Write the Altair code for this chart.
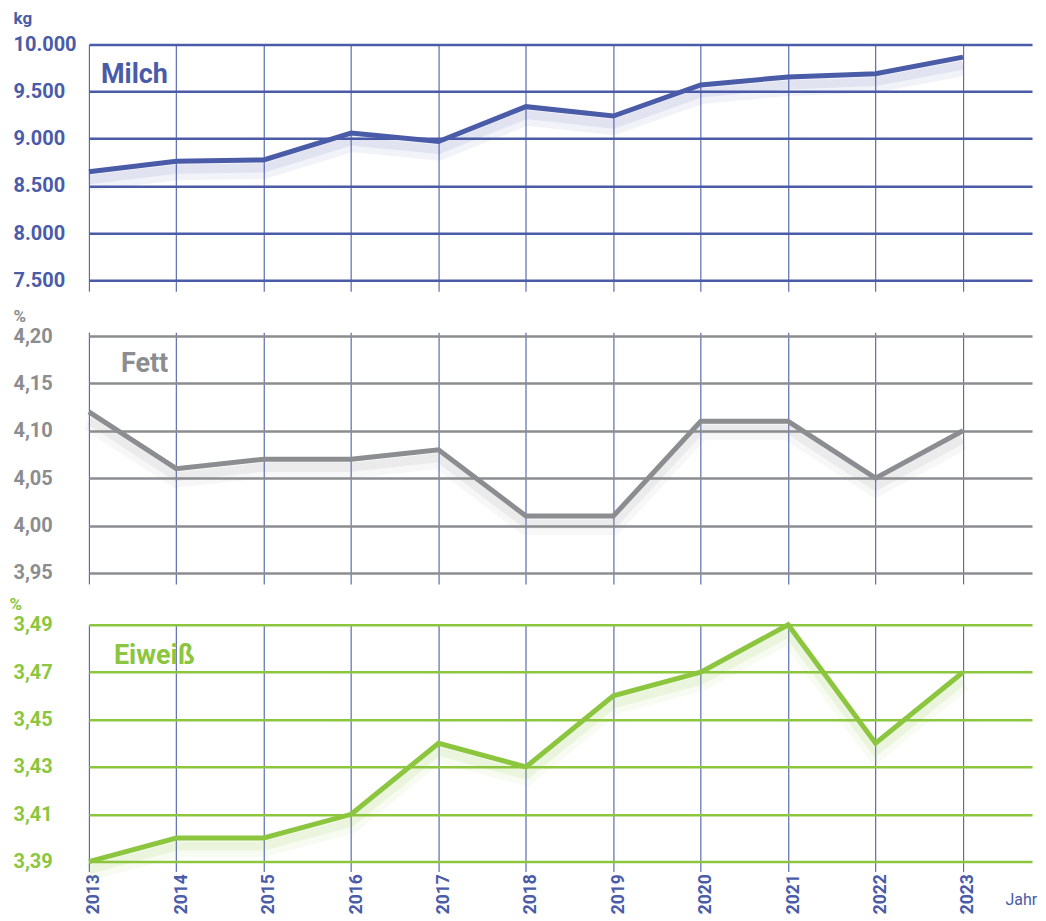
import altair as alt
import pandas as pd

years = list(range(2013, 2024))
milch = [8650, 8760, 8775, 9060, 8970, 9340, 9240, 9570, 9655, 9690, 9865]
fett = [4.12, 4.06, 4.07, 4.07, 4.08, 4.01, 4.01, 4.11, 4.11, 4.05, 4.10]
eiweiss = [3.39, 3.40, 3.40, 3.41, 3.44, 3.43, 3.46, 3.47, 3.49, 3.44, 3.47]

milch_ticks = [7500, 8000, 8500, 9000, 9500, 10000]
fett_ticks = [3.95, 4.00, 4.05, 4.10, 4.15, 4.20]
eiweiss_ticks = [3.39, 3.41, 3.43, 3.45, 3.47, 3.49]

BLUE = "#4a5ba8"
GRAY = "#8b8d90"
GREEN = "#8cc63f"
FONT = "Roboto"
W = 944
XDOM = [2013, 2023.79]


def panel(values, ticks, domain, height, color, name, unit, unit_x, unit_y,
          name_x, name_y, fmt_expr, bottom=False):
    df = pd.DataFrame({"Jahr": years, "v": values})
    if bottom:
        xaxis = alt.Axis(values=years, format="d", labelAngle=-90, labelFontSize=17.5,
                         labelFontWeight="bold", labelColor=BLUE, labelFont=FONT,
                         labelOffset=5, labelPadding=2, labelFlush=False,
                         ticks=False, domain=False, grid=True, gridColor=BLUE,
                         gridWidth=1.2, gridOpacity=0.9,
                         title="Jahr", titleX=917, titleY=33, titleAngle=0,
                         titleAlign="left", titleBaseline="alphabetic", titleFont=FONT,
                         titleFontSize=16, titleFontWeight="normal", titleColor=BLUE)
    else:
        xaxis = alt.Axis(values=years, labels=False, ticks=False, domain=False,
                         grid=True, gridColor=BLUE, gridWidth=1.2, gridOpacity=0.9,
                         title="")
    yaxis = alt.Axis(values=ticks, labelExpr=fmt_expr, labelAlign="left",
                     labelPadding=76, labelBaseline="middle", labelFontSize=20,
                     labelFontWeight="bold", labelColor=color, labelFont=FONT,
                     ticks=False, domain=False, grid=True, gridColor=color,
                     gridWidth=2.5, title=unit, titleAngle=0, titleX=unit_x,
                     titleY=unit_y, titleAlign="left", titleBaseline="top",
                     titleFontSize=17, titleFontWeight="bold", titleColor=color,
                     titleFont=FONT)
    base = alt.Chart(df).encode(
        x=alt.X("Jahr:Q", scale=alt.Scale(domain=XDOM, nice=False, zero=False), axis=xaxis),
        y=alt.Y("v:Q", scale=alt.Scale(domain=domain, nice=False, zero=False), axis=yaxis),
    )
    sh1 = base.mark_line(color=color, strokeWidth=18, opacity=0.07, yOffset=10)
    sh2 = base.mark_line(color=color, strokeWidth=9, opacity=0.1, yOffset=8)
    line = base.mark_line(color=color, strokeWidth=5)
    label = alt.Chart(pd.DataFrame({"t": [name]})).mark_text(
        align="left", baseline="alphabetic", font=FONT, fontSize=27,
        fontWeight="bold", color=color
    ).encode(text="t:N", x=alt.value(name_x), y=alt.value(name_y))
    return alt.layer(sh1, sh2, line, label).properties(width=W, height=height)


p1 = panel(milch, milch_ticks, [7383.5, 10000], 247, BLUE, "Milch", "kg", -76, -34,
           12, 39, "replace(format(datum.value, ',.0f'), ',', '.')")
p2 = panel(fett, fett_ticks, [3.9384, 4.2042], 252, GRAY, "Fett", "%", -76, -24,
           32, 40, "replace(format(datum.value, '.2f'), '.', ',')")
p3 = panel(eiweiss, eiweiss_ticks, [3.3858, 3.49], 247, GREEN, "Eiweiß", "%", -80, -28,
           25, 39, "replace(format(datum.value, '.2f'), '.', ',')", bottom=True)

chart = alt.vconcat(p1, p2, p3, spacing=41, bounds="flush").properties(
    padding={"left": 0, "top": 0, "right": 0, "bottom": 0}
).configure_view(stroke="transparent")

chart.save("out.html", embed_options={"renderer": "svg", "actions": False})
